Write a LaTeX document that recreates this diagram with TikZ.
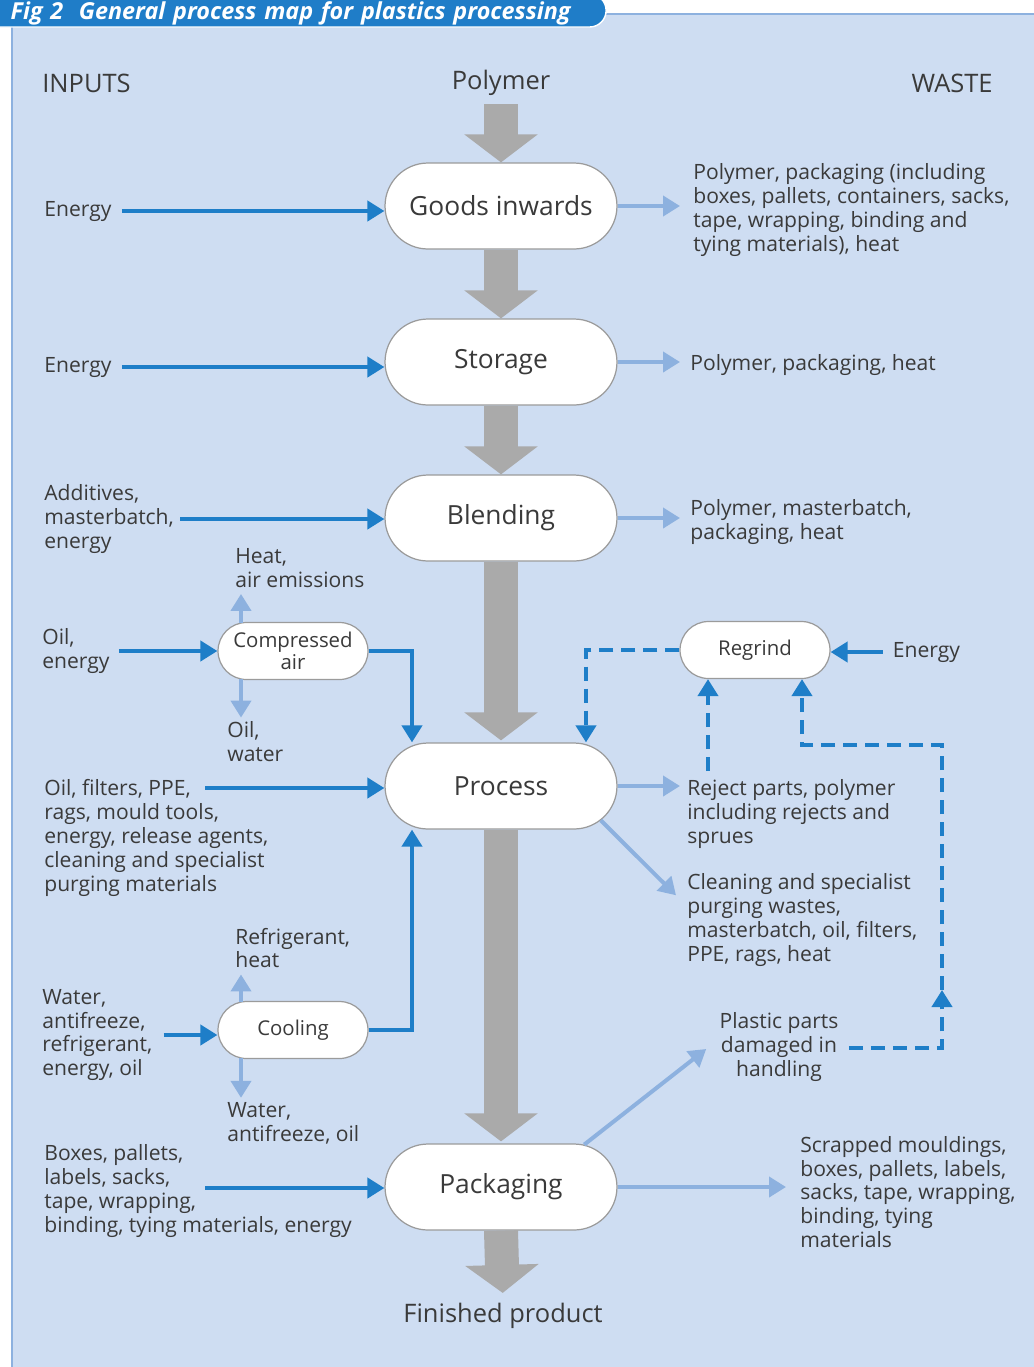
\documentclass[tikz,border=0pt]{standalone}
\usepackage{fontspec}
\setmainfont{Open Sans}
\usetikzlibrary{shapes.misc,arrows.meta,positioning,calc}

\definecolor{panelbg}{RGB}{206,221,242}
\definecolor{tabblue}{RGB}{31,125,200}
\definecolor{flowblue}{RGB}{30,126,200}
\definecolor{wasteblue}{RGB}{141,177,223}
\definecolor{flowgrey}{RGB}{170,170,170}
\definecolor{txtgrey}{RGB}{58,58,58}
\definecolor{edgegrey}{RGB}{155,155,155}

\begin{document}
\begin{tikzpicture}[
    x=0.02cm, y=-0.02cm,
    every node/.style={text=txtgrey, inner sep=0pt},
    stage/.style={rounded rectangle, draw=edgegrey, line width=0.7pt, fill=white,
                  minimum width=4.64cm, minimum height=1.72cm, font=\fontsize{15}{18}\selectfont},
    aux/.style={rounded rectangle, draw=edgegrey, line width=0.7pt, fill=white, align=center,
                minimum width=3cm, minimum height=1.14cm, font=\fontsize{11.6}{12.4}\selectfont},
    lbl/.style={anchor=west, align=left, yshift=-0.04cm, font=\fontsize{12}{13.6}\selectfont},
    head/.style={yshift=-0.06cm, font=\fontsize{14.5}{17}\selectfont},
    bigflow/.style={flowgrey, line width=0.68cm, -{Triangle[length=0.56cm, width=1.44cm]}},
    inflow/.style={flowblue, line width=0.08cm, -{Triangle[length=0.34cm, width=0.4cm]}},
    outflow/.style={wasteblue, line width=0.08cm, -{Triangle[length=0.34cm, width=0.4cm]}},
    dashflow/.style={flowblue, line width=0.08cm, dash pattern=on 0.28cm off 0.16cm,
                     -{Triangle[length=0.34cm, width=0.4cm]}}
]
\useasboundingbox (0,0) rectangle (1034,1367);
% panel and title tab
\fill[panelbg] (12,14) rectangle (1034,1367);
\draw[wasteblue, line width=1.4pt] (12,1367) -- (12,14) -- (1034,14);
\node[rounded rectangle, rounded rectangle left arc=none, fill=tabblue, draw=white, line width=0.8pt,
      anchor=west, minimum height=0.66cm, text width=12.1cm, align=left, text height=10pt, text depth=0pt,
      text=white, font=\fontsize{13.3}{16}\selectfont\bfseries\itshape] (figtab) at (-2,10.5)
    {\hspace*{0.24cm}Fig 2\ \ General process map for plastics processing};

% column heads
\node[head, anchor=west] (inputs) at (42,80) {INPUTS};
\node[head] (polymer) at (501,80) {Polymer};
\node[head, anchor=east] (waste) at (993,80) {WASTE};

% main stages
\node[stage] (goods) at (501,206) {Goods inwards};
\node[stage] (storage) at (501,362) {Storage};
\node[stage] (blending) at (501,518) {Blending};
\node[stage] (process) at (501,786) {Process};
\node[stage] (packaging) at (501,1187) {Packaging};
\node[head] (finished) at (503,1313) {Finished product};

% side units
\node[aux] (compair) at (293,651) {Compressed\\air};
\node[aux] (cooling) at (293,1030) {Cooling};
\node[aux] (regrind) at (755,650) {Regrind};
\node[lbl, right=1.24cm of regrind] (energyR) {Energy};

% inputs
\node[lbl] (energyA) at (44,209) {Energy};
\node[lbl] (energyB) at (44,365) {Energy};
\node[lbl] (addin) at (44,517) {Additives,\\masterbatch,\\energy};
\node[lbl] (oilin) at (42,649) {Oil,\\energy};
\node[lbl] (heatout) at (235,566) {Heat,\\air emissions};
\node[lbl] (oilwat) at (227,740) {Oil,\\water};
\node[lbl] (procin) at (44,836) {Oil, filters, PPE,\\rags, mould tools,\\energy, release agents,\\cleaning and specialist\\purging materials};
\node[lbl] (refrig) at (235,946) {Refrigerant,\\heat};
\node[lbl] (waterin) at (42,1033) {Water,\\antifreeze,\\refrigerant,\\energy, oil};
\node[lbl] (watout) at (227,1121) {Water,\\antifreeze, oil};
\node[lbl] (boxin) at (44,1189) {Boxes, pallets,\\labels, sacks,\\tape, wrapping,\\binding, tying materials, energy};

% waste
\node[lbl] (goodsw) at (693,208) {Polymer, packaging (including\\boxes, pallets, containers, sacks,\\tape, wrapping, binding and\\tying materials), heat};
\node[lbl] (storagew) at (690,363) {Polymer, packaging, heat};
\node[lbl] (blendw) at (690,520) {Polymer, masterbatch,\\packaging, heat};
\node[lbl] (rejectw) at (687,812) {Reject parts, polymer\\including rejects and\\sprues};
\node[lbl] (cleanw) at (687,918) {Cleaning and specialist\\purging wastes,\\masterbatch, oil, filters,\\PPE, rags, heat};
\node[lbl, anchor=center, align=center] (plasticw) at (779,1045) {Plastic parts\\damaged in\\handling};
\node[lbl] (scrapw) at (800,1190) {Scrapped mouldings,\\boxes, pallets, labels,\\sacks, tape, wrapping,\\binding, tying\\materials};

% main flow
\draw[bigflow, shorten <=0.16cm] (polymer.south) -- (goods.north);
\draw[bigflow] (goods.south) -- (storage.north);
\draw[bigflow] (storage.south) -- (blending.north);
\draw[bigflow, shorten >=0.04cm] (blending.south) -- (process.north);
\draw[bigflow, shorten >=0.04cm] (process.south) -- (packaging.north);
\draw[bigflow, shorten >=0.2cm] (packaging.south) -- (finished.north);

% inputs
\coordinate (procarrow) at (205,788);
\coordinate (boxarrow) at (205,1188);
\draw[inflow, shorten <=0.2cm] (energyA.east) -- (energyA.east -| goods.west);
\draw[inflow, shorten <=0.2cm] (energyB.east) -- (energyB.east -| storage.west);
\draw[inflow, shorten <=0.12cm] (addin.east) -- (addin.east -| blending.west);
\draw[inflow, shorten <=0.18cm] (oilin.east) -- (oilin.east -| compair.west);
\draw[inflow] (compair.east) -| ($(process.north)+(-89,0)$);
\draw[inflow] (procarrow) -- (procarrow -| process.west);
\draw[inflow, shorten <=0.22cm] (waterin.east) -- (waterin.east -| cooling.west);
\draw[inflow] (cooling.east) -| ($(process.south)+(-89,0)$);
\draw[inflow] (boxarrow) -- (boxarrow -| packaging.west);
\draw[inflow, shorten <=0.2cm] (energyR.west) -- (energyR.west -| regrind.east);

% side unit releases
\coordinate (caup) at ($(compair.north)+(-52,1)$);
\coordinate (cadown) at ($(compair.south)+(-52,-1)$);
\coordinate (coup) at ($(cooling.north)+(-52,1)$);
\coordinate (codown) at ($(cooling.south)+(-52,-1)$);
\draw[outflow, shorten >=0.12cm] (caup) -- (caup |- heatout.south);
\draw[outflow, shorten >=0.08cm] (cadown) -- (cadown |- oilwat.north);
\draw[outflow, shorten >=0.12cm] (coup) -- (coup |- refrig.south);
\draw[outflow, shorten >=0.08cm] (codown) -- (codown |- watout.north);

% waste
\draw[outflow, shorten >=0.26cm] (goods.east) -- (goods.east -| goodsw.west);
\draw[outflow, shorten >=0.2cm] (storage.east) -- (storage.east -| storagew.west);
\draw[outflow, shorten >=0.2cm] (blending.east) -- (blending.east -| blendw.west);
\draw[outflow, shorten >=0.14cm] (process.east) -- (process.east -| rejectw.west);
\draw[outflow] (process.-19) -- ($(cleanw.north west)+(-11,22)$);
\draw[outflow] (packaging.27) -- ($(plasticw.west)+(-13,2)$);
\draw[outflow, shorten >=0.28cm] (packaging.east) -- (packaging.east -| scrapw.west);

% regrind loop
\coordinate (rejup) at ($(rejectw.north west)+(21,-8)$);
\coordinate (loopmid) at (942,990);
\coordinate (loopcorner) at (802,745);
\draw[dashflow] (regrind.west) -| ($(process.north)+(85,0)$);
\draw[dashflow] (rejup) -- (rejup |- regrind.south);
\draw[dashflow] ($(plasticw.east)+(10,1)$) -| (loopmid);
\draw[dashflow] (loopmid) |- (loopcorner) -- (loopcorner |- regrind.south);
\end{tikzpicture}
\end{document}
